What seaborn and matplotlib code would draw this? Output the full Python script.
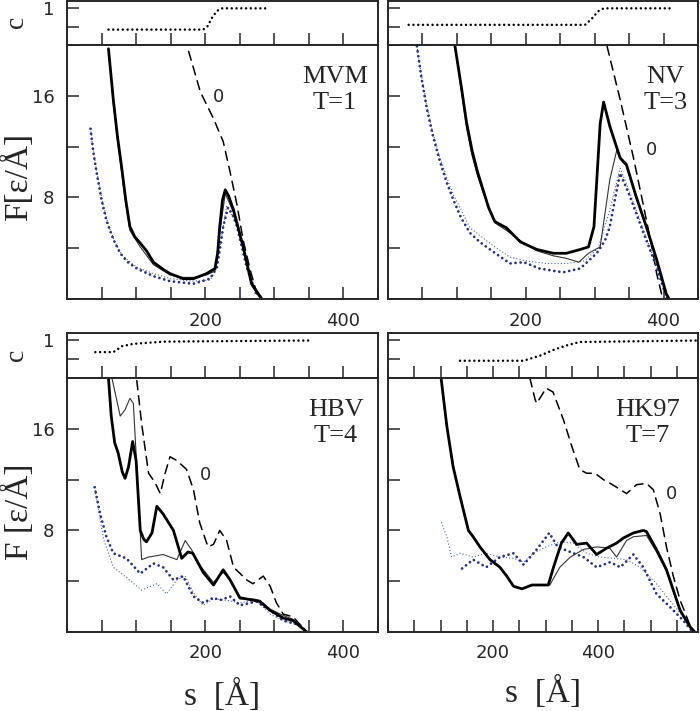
import matplotlib
matplotlib.use("Agg")
import matplotlib.pyplot as plt
from matplotlib.ticker import FixedLocator, MultipleLocator, NullFormatter
import seaborn as sns

# -------- DATA --------
# MVM, T=1
mvm_c_s = [60, 197, 203, 210, 217, 224, 289]
mvm_c = [0.42, 0.42, 0.5, 0.75, 0.93, 1.0, 1.0]
mvm_thick_s = [60, 67, 73, 79, 85, 91, 98, 106, 115, 125, 140, 149, 168, 183, 202, 214, 218, 221, 225, 229, 234, 241, 255, 267, 282]
mvm_thick_f = [19.7, 15.7, 12.8, 10.4, 7.8, 5.7, 4.9, 4.4, 3.8, 2.9, 2.3, 2.0, 1.6, 1.6, 2.0, 2.4, 3.6, 5.7, 7.8, 8.6, 8.1, 7.0, 4.1, 1.2, 0.0]
mvm_thin_s = [60, 67, 73, 79, 85, 91, 106, 125, 149, 168, 183, 202, 214, 221, 229, 241, 255, 267, 280]
mvm_thin_f = [19.7, 15.4, 12.5, 10.0, 7.5, 5.4, 4.1, 2.7, 1.9, 1.7, 1.7, 1.9, 2.2, 5.2, 8.3, 6.8, 4.0, 1.1, 0.0]
mvm_navy_s = [34, 38, 43, 50, 57, 67, 77, 88, 101, 125, 149, 183, 207, 217, 222, 226, 233, 240, 246, 260, 275]
mvm_navy_f = [13.4, 11.6, 9.9, 7.8, 6.2, 4.7, 3.6, 2.9, 2.4, 1.8, 1.4, 1.2, 1.6, 2.5, 4.2, 5.7, 7.2, 6.6, 5.7, 2.5, 0.2]
mvm_navy_thin_s = [34, 39, 45, 52, 60, 70, 80, 101, 125, 150, 183, 207, 215, 224, 231, 245, 260, 275]
mvm_navy_thin_f = [13.4, 11.3, 9.5, 7.5, 5.8, 4.4, 3.4, 2.5, 2.0, 1.6, 1.4, 1.5, 2.2, 5.0, 7.3, 6.0, 2.8, 0.3]
mvm_free_s = [176, 193, 212, 226, 236, 246, 255, 265, 276]
mvm_free_f = [19.5, 16.3, 14.2, 12.4, 10.0, 7.4, 4.6, 2.3, 0.2]

# NV, T=3
nv_c_s = [30, 286, 295, 305, 313, 411]
nv_c = [0.55, 0.55, 0.7, 0.92, 1.0, 1.0]
nv_thick_s = [97, 107, 114, 122, 130, 138, 146, 155, 172, 192, 216, 240, 259, 279, 291, 299, 308, 313, 322, 337, 346, 360, 375, 390, 404, 408]
nv_thick_f = [20, 16.5, 13.9, 11.7, 10.0, 8.6, 7.2, 6.1, 5.6, 4.5, 3.9, 3.6, 3.6, 3.9, 4.1, 5.7, 13.8, 15.5, 13.6, 11.1, 10.6, 8.1, 5.7, 3.1, 0.4, 0]
nv_thin_s = [97, 107, 114, 122, 130, 138, 155, 172, 192, 216, 240, 259, 277, 291, 308, 322, 332, 340, 346, 360, 375, 390, 404, 408]
nv_thin_f = [20, 16.2, 13.5, 11.3, 9.7, 8.4, 6.0, 5.4, 4.6, 3.8, 3.4, 3.2, 2.9, 3.6, 4.1, 9.4, 11.7, 10.8, 10.5, 8.0, 5.6, 3.0, 0.4, 0]
nv_navy_s = [42, 48, 56, 65, 75, 85, 95, 106, 119, 133, 148, 177, 197, 220, 254, 279, 303, 315, 322, 330, 337, 351, 371, 390, 405]
nv_navy_f = [19.9, 17.6, 15.1, 12.9, 10.9, 9.2, 7.8, 6.4, 5.2, 4.5, 3.9, 2.8, 2.9, 2.4, 2.1, 2.4, 3.6, 4.6, 5.7, 8.0, 9.9, 8.1, 5.2, 2.5, 0]
nv_navy_thin_s = [42, 48, 56, 65, 75, 85, 95, 119, 150, 177, 200, 230, 260, 285, 305, 322, 337, 351, 371, 390, 405]
nv_navy_thin_f = [19.9, 17.8, 15.3, 13.1, 11.2, 9.6, 8.2, 5.6, 4.3, 3.3, 3.0, 2.8, 2.8, 3.0, 4.0, 7.0, 10.3, 8.4, 5.4, 2.6, 0]
nv_free_s = [318, 337, 356, 371, 383, 390, 398]
nv_free_f = [19.9, 15.7, 11.2, 7.3, 4.1, 2.0, 0.2]

# HBV, T=4
hbv_c_s = [41, 67, 80, 96, 140, 349]
hbv_c = [0.69, 0.69, 0.85, 0.91, 0.97, 1.0]
hbv_thick_s = [60, 64, 69, 74, 80, 84, 89, 95, 100, 106, 111, 115, 123, 130, 139, 154, 166, 175, 182, 197, 212, 226, 236, 250, 270, 279, 294, 313, 327, 347]
hbv_thick_f = [20, 17.0, 14.9, 14.1, 12.6, 12.1, 13.0, 15.0, 13.5, 8.0, 7.3, 7.1, 7.8, 9.9, 9.3, 8.0, 5.8, 6.3, 6.2, 4.7, 3.7, 4.9, 4.1, 2.7, 2.5, 2.4, 1.7, 1.1, 0.9, 0]
hbv_thin_s = [65, 77, 84, 91, 96, 101, 108, 118, 139, 159, 171, 180, 193, 212, 226, 236, 250, 270, 279, 294, 313, 327, 347]
hbv_thin_f = [20, 17.0, 17.5, 18.4, 18.0, 13.0, 5.7, 5.9, 6.1, 5.7, 7.2, 6.5, 5.2, 3.9, 4.7, 4.1, 2.6, 2.6, 2.5, 1.8, 1.3, 1.0, 0]
hbv_navy_s = [40, 48, 57, 67, 86, 106, 125, 139, 154, 168, 183, 197, 212, 221, 236, 250, 274, 294, 313, 337, 347]
hbv_navy_f = [11.4, 9.3, 7.5, 6.2, 5.8, 4.6, 5.4, 5.1, 4.1, 4.4, 2.8, 2.3, 2.7, 2.5, 2.8, 2.1, 2.4, 1.7, 0.9, 0.55, 0]
hbv_navy_thin_s = [40, 53, 67, 86, 108, 130, 144, 159, 171, 183, 197, 212, 231, 250, 274, 294, 313, 337, 347]
hbv_navy_thin_f = [11.4, 7.3, 5.1, 4.3, 3.3, 3.8, 3.0, 4.1, 4.4, 3.1, 2.1, 2.6, 2.5, 2.3, 2.5, 1.4, 0.9, 0.5, 0]
hbv_free_s = [101, 108, 118, 127, 135, 142, 149, 159, 173, 183, 192, 204, 212, 221, 231, 241, 260, 269, 284, 294, 303, 313, 327, 337, 347]
hbv_free_f = [19.8, 16.4, 12.5, 11.8, 10.9, 12.5, 13.8, 13.5, 12.8, 11.2, 8.6, 6.7, 6.9, 8.0, 7.2, 5.1, 4.1, 3.8, 4.4, 3.6, 2.3, 1.4, 1.2, 0.6, 0]

# HK97, T=7
hk_c_s = [137, 258, 290, 315, 340, 365, 590]
hk_c = [0.46, 0.46, 0.6, 0.75, 0.87, 0.96, 1.0]
hk_thick_s = [101, 112, 124, 137, 153, 162, 175, 194, 213, 226, 239, 255, 274, 296, 305, 315, 330, 343, 359, 378, 397, 416, 435, 448, 467, 486, 492, 511, 530, 543, 556, 575, 584]
hk_thick_f = [20, 16.2, 13.0, 10.7, 8.0, 7.5, 6.7, 5.7, 5.1, 4.4, 3.6, 3.4, 3.7, 3.7, 3.7, 5.1, 7.0, 7.8, 6.9, 7.0, 6.1, 6.6, 7.0, 7.4, 7.8, 8.0, 7.9, 6.5, 4.9, 3.3, 1.7, 0.4, 0]
hk_thin_s = [101, 112, 124, 137, 153, 162, 175, 194, 213, 226, 239, 255, 274, 296, 308, 327, 347, 372, 397, 422, 435, 454, 467, 492, 511, 530, 543, 556, 575, 584]
hk_thin_f = [20, 16.2, 13.0, 10.7, 8.0, 7.5, 6.7, 5.7, 5.1, 4.4, 3.6, 3.4, 3.7, 3.7, 3.7, 5.1, 5.9, 6.5, 6.7, 6.6, 5.9, 7.2, 7.5, 7.6, 6.3, 4.8, 3.2, 1.7, 0.4, 0]
hk_navy_s = [141, 162, 187, 213, 239, 258, 283, 307, 323, 347, 372, 397, 423, 442, 467, 486, 511, 536, 562, 580]
hk_navy_f = [5.0, 5.7, 5.1, 5.9, 6.2, 5.3, 6.5, 7.8, 6.7, 6.3, 5.9, 5.1, 5.5, 5.1, 6.1, 5.1, 3.0, 2.0, 0.9, 0]
hk_navy_thin_s = [102, 112, 121, 137, 162, 187, 213, 239, 258, 277, 301, 327, 353, 378, 403, 429, 454, 480, 511, 536, 562, 580]
hk_navy_thin_f = [8.6, 7.5, 5.9, 6.2, 5.9, 6.2, 5.9, 5.8, 5.5, 6.2, 6.7, 7.1, 7.0, 6.2, 5.9, 5.8, 5.7, 5.1, 3.8, 2.5, 1.2, 0]
hk_free_s = [270, 280, 283, 301, 314, 334, 350, 365, 378, 394, 410, 419, 435, 454, 473, 492, 505, 518, 530, 543, 556, 575, 580]
hk_free_f = [20, 18.3, 18.0, 19.2, 18.9, 16.7, 14.6, 12.8, 12.5, 12.5, 12.0, 11.8, 11.4, 10.9, 11.6, 11.7, 11.2, 9.3, 6.7, 4.4, 2.5, 0.5, 0]

names = ["MVM", "NV", "HBV", "HK97"]
tnums = ["T=1", "T=3", "T=4", "T=7"]
zero_pos = [(219, 15.9), (383, 11.7), (200, 12.4), (540, 10.9)]
xmax = [450, 450, 450, 590]
# ---------------------------------------------

sns.set_style("ticks")
plt.rcParams["font.family"] = ["DejaVu Sans"]
plt.rcParams["axes.linewidth"] = 1.4
plt.rcParams["lines.dash_capstyle"] = "round"

NAVY = "#26307c"
SERIF = ["Liberation Serif", "DejaVu Serif"]

panels = [
    (mvm_c_s, mvm_c, mvm_thick_s, mvm_thick_f, mvm_thin_s, mvm_thin_f, mvm_navy_s, mvm_navy_f,
     mvm_navy_thin_s, mvm_navy_thin_f, mvm_free_s, mvm_free_f),
    (nv_c_s, nv_c, nv_thick_s, nv_thick_f, nv_thin_s, nv_thin_f, nv_navy_s, nv_navy_f,
     nv_navy_thin_s, nv_navy_thin_f, nv_free_s, nv_free_f),
    (hbv_c_s, hbv_c, hbv_thick_s, hbv_thick_f, hbv_thin_s, hbv_thin_f, hbv_navy_s, hbv_navy_f,
     hbv_navy_thin_s, hbv_navy_thin_f, hbv_free_s, hbv_free_f),
    (hk_c_s, hk_c, hk_thick_s, hk_thick_f, hk_thin_s, hk_thin_f, hk_navy_s, hk_navy_f,
     hk_navy_thin_s, hk_navy_thin_f, hk_free_s, hk_free_f),
]

W, H = 700, 711
fig = plt.figure(figsize=(W / 100, H / 100), dpi=100)

# pixel boxes: (left, right, c_top, f_top, f_bottom)
boxes = [(67, 378, 1, 45, 299), (388, 698, 1, 45, 299),
         (67, 378, 333, 378, 632), (388, 698, 333, 378, 632)]


def style_ticks(ax):
    ax.tick_params(which="both", direction="in", length=8.5, width=1.1,
                   top=False, right=False, labelsize=13, pad=9)


for i, (box, d) in enumerate(zip(boxes, panels)):
    l, r, ct, ft, fb = box
    axc = fig.add_axes([l / W, 1 - ft / H, (r - l) / W, (ft - ct) / H])
    axf = fig.add_axes([l / W, 1 - fb / H, (r - l) / W, (fb - ft) / H])
    (cs, cv, ts, tf, ths, thf, ns, nf, nts, ntf, fs, ff) = d

    # concentration panel
    sns.lineplot(x=cs, y=cv, ax=axc, color="black", lw=1.8,
                 linestyle=(0, (0.01, 1.9)), estimator=None)
    axc.set_xlim(0, xmax[i])
    axc.set_ylim(0, 1.2)
    axc.yaxis.set_major_locator(FixedLocator([1]))
    axc.yaxis.set_minor_locator(FixedLocator([0.5]))
    axc.xaxis.set_major_locator(MultipleLocator(50))
    axc.xaxis.set_major_formatter(NullFormatter())
    style_ticks(axc)
    axc.set_xlabel("")
    axc.set_ylabel("")

    # force panel
    sns.lineplot(x=fs, y=ff, ax=axf, color="black", lw=1.1,
                 linestyle=(0, (6, 4)), estimator=None)
    sns.lineplot(x=nts, y=ntf, ax=axf, color="#5563a8", lw=1.0,
                 linestyle=(0, (0.01, 2.3)), estimator=None)
    sns.lineplot(x=ns, y=nf, ax=axf, color=NAVY, lw=2.0,
                 linestyle=(0, (0.01, 1.8)), estimator=None)
    sns.lineplot(x=ths, y=thf, ax=axf, color="#333333", lw=0.8, estimator=None)
    sns.lineplot(x=ts, y=tf, ax=axf, color="black", lw=2.0, estimator=None)
    axf.set_xlim(0, xmax[i])
    axf.set_ylim(0, 20)
    axf.xaxis.set_major_locator(FixedLocator([200, 400]))
    axf.xaxis.set_minor_locator(MultipleLocator(50))
    axf.yaxis.set_major_locator(FixedLocator([8, 16]))
    axf.yaxis.set_minor_locator(MultipleLocator(4))
    style_ticks(axf)
    axf.set_xlabel("")
    axf.set_ylabel("")

    if i % 2 == 1:
        axc.set_yticklabels([])
        axf.set_yticklabels([])

    zx, zy = zero_pos[i]
    axf.text(zx, zy, "0", fontsize=13, ha="center", va="center")
    tx = [0.862, 0.894, 0.865, 0.839][i]
    axf.text(tx, 0.874, names[i], transform=axf.transAxes, fontsize=19,
             family=SERIF, ha="center", va="center")
    axf.text(tx, 0.770, tnums[i], transform=axf.transAxes, fontsize=19,
             family=SERIF, ha="center", va="center")

# axis labels
fig.text(16 / W, 1 - 22 / H, "c", rotation=90, fontsize=20, family=SERIF,
         ha="center", va="center")
fig.text(16 / W, 1 - 355 / H, "c", rotation=90, fontsize=20, family=SERIF,
         ha="center", va="center")
fig.text(18 / W, 1 - 177 / H, "F[ε/Å]", rotation=90, fontsize=24, family=SERIF,
         ha="center", va="center")
fig.text(18 / W, 1 - 512 / H, "F [ε/Å]", rotation=90, fontsize=24, family=SERIF,
         ha="center", va="center")
fig.text(222 / W, 1 - 695 / H, "s  [Å]", fontsize=24, family=SERIF,
         ha="center", va="center")
fig.text(543 / W, 1 - 692 / H, "s  [Å]", fontsize=24, family=SERIF,
         ha="center", va="center")

fig.savefig("out.png", dpi=100)
